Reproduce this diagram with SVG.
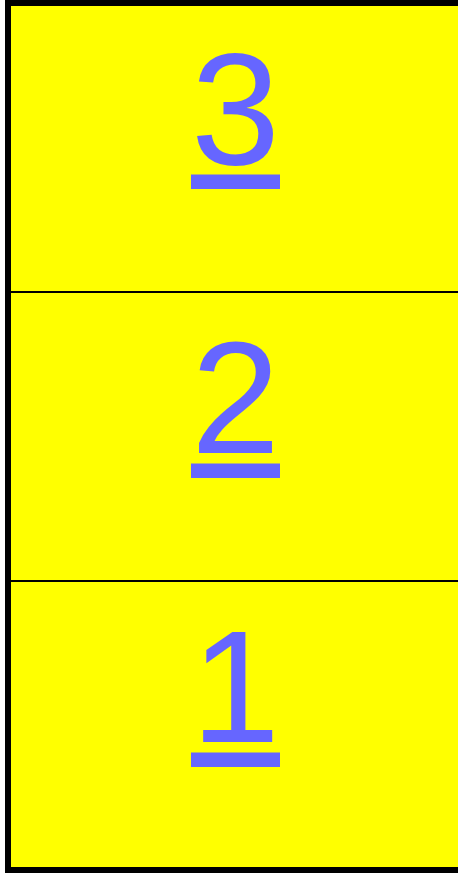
<svg xmlns="http://www.w3.org/2000/svg" width="458" height="873" viewBox="0 0 458 873">
<style>
.cell{fill:#ffff00;stroke:#000;stroke-width:2}
.lbl{font-family:"Liberation Sans",Arial,sans-serif;font-size:160px;fill:#6666ff;text-anchor:middle}
.ul{fill:#6666ff}
</style>
<rect x="0" y="0" width="458" height="873" fill="#ffffff"/>
<g id="cell3"><rect class="cell" x="8" y="3" width="470" height="289"/><text class="lbl" x="235.5" y="164">3</text><rect class="ul" x="191" y="174.5" width="89" height="14.5"/></g>
<g id="cell2"><rect class="cell" x="8" y="292" width="470" height="289"/><text class="lbl" x="235.5" y="453">2</text><rect class="ul" x="191" y="463.5" width="89" height="14.5"/></g>
<g id="cell1"><rect class="cell" x="8" y="581" width="470" height="289"/><text class="lbl" x="235.5" y="742">1</text><rect class="ul" x="191" y="752.5" width="89" height="14.5"/></g>
<g id="connectors"></g>
<rect x="8" y="3" width="470" height="867" fill="none" stroke="#000" stroke-width="6"/>
</svg>
